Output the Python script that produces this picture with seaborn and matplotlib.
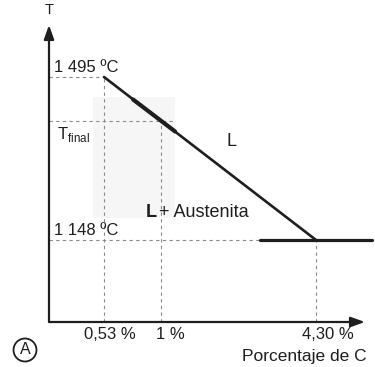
import numpy as np
import pandas as pd
import matplotlib
matplotlib.use("Agg")
import matplotlib.pyplot as plt
import seaborn as sns

# --- data -------------------------------------------------------------
carbon_ticks = [0.53, 1.0, 4.30]                 # % C
tick_labels = ["0,53 %", "1 %", "4,30 %"]
T_melt = 1495                                     # ºC at 0,53 % C
T_eutectic = 1148                                 # ºC at 4,30 % C
T_final = 1402                                    # ºC, liquidus at 1 % C

liquidus_x = [0.53, 4.30]
liquidus_T = [1495, 1148]
path_x = [0.77, 1.30]                             # cooling path along liquidus
path_T = [1447, 1379]
eutectic_x = [3.11, 5.49]
eutectic_T = [1148, 1148]

# --- schematic (piecewise linear) carbon axis ---------------------------
_anchor_c = np.array([-10.0, 0.0, 0.53, 1.0, 4.30, 20.0])
_anchor_u = np.array([49 - 10 * 103.77, 49, 104, 161, 316, 316 + 15.7 * 46.97])


def fwd(x):
    return np.interp(x, _anchor_c, _anchor_u)


def inv(u):
    return np.interp(u, _anchor_u, _anchor_c)


sns.set_theme(style="white")
plt.rcParams["font.family"] = ["Liberation Sans", "DejaVu Sans"]

W, H = 375, 367
fig = plt.figure(figsize=(W / 100, H / 100), dpi=100)
ax = fig.add_axes([0, 0, 1, 1])
ax.set_xscale("function", functions=(fwd, inv))
ax.set_xlim(inv(0), inv(W))
ax.set_ylim(877.6, 1658.9)
ax.axis("off")

ink = "#1e1e1e"
guide = "#8a8a8a"
origin_x, origin_T = 0.0, 973.4

# faint shaded region around the 1 % C cooling path
ax.fill_between([0.424, 1.298], 1195, 1452.4, color="#f6f6f6", lw=0, zorder=0)

# dashed guide lines
dash = dict(color=guide, lw=0.8, ls=(0, (3, 3)), zorder=1)
ax.hlines(T_melt, origin_x, carbon_ticks[0], **dash)
ax.hlines(T_final, origin_x, path_x[1], **dash)
ax.hlines(T_eutectic, origin_x, eutectic_x[0], **dash)
ax.vlines(carbon_ticks[0], origin_T, T_melt, **dash)
ax.vlines(carbon_ticks[1], origin_T, T_final, **dash)
ax.vlines(carbon_ticks[2], origin_T, T_eutectic, **dash)

# phase boundaries
sns.lineplot(data=pd.DataFrame({"C": liquidus_x, "T": liquidus_T}), x="C", y="T",
             ax=ax, color=ink, lw=1.9, zorder=3)
sns.lineplot(data=pd.DataFrame({"C": path_x, "T": path_T}), x="C", y="T",
             ax=ax, color=ink, lw=3.0, zorder=3)
sns.lineplot(data=pd.DataFrame({"C": eutectic_x, "T": eutectic_T}), x="C", y="T",
             ax=ax, color=ink, lw=2.3, zorder=3)

# axes with arrow heads
arrow = dict(arrowstyle="-|>,head_length=0.7,head_width=0.25", color=ink, lw=1.6,
             shrinkA=0, shrinkB=0, mutation_scale=12)
ax.annotate("", xy=(origin_x, 1605.7), xytext=(origin_x, origin_T), arrowprops=arrow)
ax.annotate("", xy=(5.343, origin_T), xytext=(origin_x, origin_T), arrowprops=arrow)

fs = 12
txt = dict(color=ink, fontsize=fs, textcoords="offset pixels")
ax.annotate("T", (origin_x, 1605.7), xytext=(0, 8), ha="center", va="bottom",
            **{**txt, "fontsize": 10.5})
ax.annotate("1 495 ºC", (origin_x, T_melt), xytext=(5, 5), ha="left", va="baseline", **txt)
ax.annotate("1 148 ºC", (origin_x, T_eutectic), xytext=(5, 5), ha="left", va="baseline", **txt)
ax.annotate(r"T$_{\mathregular{final}}$", (origin_x, T_final), xytext=(8, -4),
            ha="left", va="top", **txt)

tick_offsets = [6, 9, 12]
for c, lab, dx in zip(carbon_ticks, tick_labels, tick_offsets):
    ax.annotate(lab, (c, origin_T), xytext=(dx, -5), ha="center", va="top", **txt)

fig.text(367 / W, 1 - 361 / H, "Porcentaje de C", ha="right", va="baseline",
         color=ink, fontsize=12.5)
fig.text(231 / W, 1 - 141 / H, "L", ha="center", va="center", color=ink, fontsize=13)
fig.text(146 / W, 1 - 217 / H, "L", ha="left", va="baseline", color=ink,
         fontsize=13, fontweight="bold")
fig.text(159 / W, 1 - 217 / H, "+ Austenita", ha="left", va="baseline", color=ink,
         fontsize=13)
fig.text(25 / W, 1 - 350 / H, "A", ha="center", va="center", color=ink, fontsize=11.5,
         bbox=dict(boxstyle="circle,pad=0.25", fc="white", ec=ink, lw=1.3))

fig.savefig("out.png", dpi=100)
